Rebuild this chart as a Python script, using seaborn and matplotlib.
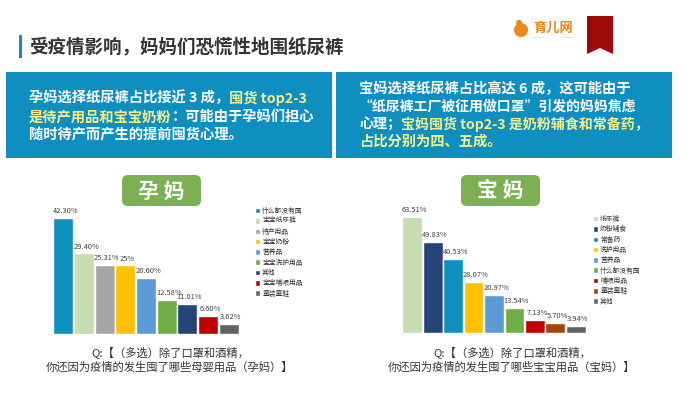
import seaborn as sns
import matplotlib.pyplot as plt
import pandas as pd
from matplotlib.patches import Rectangle, FancyBboxPatch, Polygon, Ellipse

# data
preg_items = ['什么都没有囤', '宝宝纸尿裤', '待产用品', '宝宝奶粉', '营养品', '宝宝洗护用品', '其他', '宝宝哺喂用品', '童装童鞋']
preg_values = [42.30, 29.40, 25.31, 25, 20.60, 12.58, 11.01, 6.60, 3.62]
preg_labels = ['42.30%', '29.40%', '25.31%', '25%', '20.60%', '12.58%', '11.01%', '6.60%', '3.62%']
preg_colors = ['#0E8FBE', '#C5DDB0', '#A5A5A5', '#FFC000', '#5B9BD5', '#70AD47', '#264478', '#C00000', '#636363']

baby_items = ['纸尿裤', '奶粉辅食', '常备药', '洗护用品', '营养品', '什么都没有囤', '哺喂用品', '童装童鞋', '其他']
baby_values = [63.51, 49.83, 40.53, 28.07, 20.97, 13.54, 7.13, 5.70, 3.94]
baby_labels = ['63.51%', '49.83%', '40.53%', '28.07%', '20.97%', '13.54%', '7.13%', '5.70%', '3.94%']
baby_colors = ['#C5DDB0', '#264478', '#0E8FBE', '#FFC000', '#5B9BD5', '#70AD47', '#C00000', '#9E480E', '#636363']

W, H = 687, 396
BLUE = '#0F8FC0'
YELLOW = '#F3EE8A'
GREEN = '#7CB052'

sns.set_theme(style='white')
plt.rcParams['font.family'] = ['Noto Sans CJK SC', 'DejaVu Sans']

fig = plt.figure(figsize=(W / 100, H / 100), dpi=100, facecolor='white')

# full figure axes in pixels, for everything that is not a bar
bg = fig.add_axes([0, 0, 1, 1])
bg.set_xlim(0, W)
bg.set_ylim(H, 0)
bg.axis('off')


def line_text(x, y, parts, size=10.3):
    # parts = list of (text, colour), drawn one after the other
    rend = fig.canvas.get_renderer()
    for s, c in parts:
        t = bg.text(x, y, s, color=c, fontsize=size, fontweight='bold', va='center', ha='left')
        x = bg.transData.inverted().transform(t.get_window_extent(rend))[1][0]


# title
bg.add_patch(Rectangle((19, 35), 2.5, 23, color=BLUE, lw=0))
bg.text(29, 47, '受疫情影响，妈妈们恐慌性地围纸尿裤', fontsize=13.3, fontweight='bold', color='#333333', va='center')

# logo and ribbon
bg.add_patch(Ellipse((521, 30), 14, 14, color='#EE8A1D', lw=0))
bg.add_patch(Ellipse((519, 23), 6, 6, color='#EE8A1D', lw=0))
bg.text(553, 27.5, '育儿网', fontsize=9.5, fontweight='bold', color='#E8851C', ha='center', va='center')
bg.plot([532, 543], [37, 37], color='#F6D9B5', lw=0.5)
bg.plot([563, 574], [37, 37], color='#F6D9B5', lw=0.5)
bg.add_patch(Polygon([(587, 16), (613, 16), (613, 54), (600, 48), (587, 54)], color='#9C0A0A', lw=0))

# blue boxes
bg.add_patch(Rectangle((6, 72), 326, 86, color=BLUE, lw=0))
bg.add_patch(Rectangle((336, 72), 336, 86, color=BLUE, lw=0))

line_text(29, 98, [('孕妈选择纸尿裤占比接近 3 成，', 'white'), ('囤货 top2-3', YELLOW)])
line_text(29, 117, [('是待产用品和宝宝奶粉', YELLOW), ('：可能由于孕妈们担心', 'white')])
line_text(29, 135, [('随时待产而产生的提前囤货心理。', 'white')])

line_text(359, 89, [('宝妈选择纸尿裤占比高达 6 成，这可能由于', 'white')])
line_text(359, 107, [('“纸尿裤工厂被征用做口罩”引发的妈妈焦虑', 'white')], size=10)
line_text(359, 124, [('心理；', 'white'), ('宝妈囤货 top2-3 是奶粉辅食和常备药，', YELLOW)], size=10.1)
line_text(359, 142, [('占比分别为四、五成。', YELLOW)])


def panel(items, values, labels, colors, x0, x1, top, base, pill_x, name, legend_xy, q1_x, q2_x, q2):
    # green pill with the group name
    bg.add_patch(FancyBboxPatch((pill_x, 175), 79, 31, boxstyle='round,pad=0,rounding_size=6',
                                color=GREEN, lw=0))
    bg.text(pill_x + 39.5, 191, name, color='white', fontsize=15, fontweight='bold', ha='center', va='center')

    ax = fig.add_axes([x0 / W, 1 - base / H, (x1 - x0) / W, (base - top) / H])
    ax.patch.set_alpha(0)
    df = pd.DataFrame({'item': items, 'value': values})
    sns.barplot(data=df, x='item', y='value', hue='item', hue_order=items, palette=colors,
                width=0.97, dodge=False, saturation=1, legend=True, ax=ax)
    ax.set_ylim(0, max(values))
    ax.set_xlim(-0.5, len(items) - 0.5)
    for cont, lab in zip(ax.containers, labels):
        for t in ax.bar_label(cont, labels=[lab], fontsize=5.4, color='#404040'):
            # labels sit a little right of the bar centre
            t.xyann = (1.5, 2)
    sns.move_legend(ax, 'upper left', bbox_to_anchor=(legend_xy[0] / W, 1 - legend_xy[1] / H),
                    bbox_transform=fig.transFigure, frameon=False, title=None, fontsize=4.9,
                    handlelength=0.7, handleheight=0.85, handletextpad=0.35, labelspacing=0.34,
                    borderpad=0, borderaxespad=0)
    for t in ax.get_legend().get_texts():
        t.set_color('#333333')
    ax.axis('off')

    bg.text(q1_x, 352, 'Q:【（多选）除了口罩和酒精，', fontsize=8.15, color='#333333', va='center')
    bg.text(q2_x, 367, q2, fontsize=8.15, color='#333333', va='center')


panel(preg_items, preg_values, preg_labels, preg_colors, 53, 239, 218, 334, 122, '孕 妈',
      (255, 207), 91, 46, '你还因为疫情的发生囤了哪些母婴用品（孕妈）】')
panel(baby_items, baby_values, baby_labels, baby_colors, 402, 586, 217, 333, 461, '宝 妈',
      (593, 215), 433, 388, '你还因为疫情的发生囤了哪些宝宝用品（宝妈）】')

fig.savefig('out.png', dpi=100)
